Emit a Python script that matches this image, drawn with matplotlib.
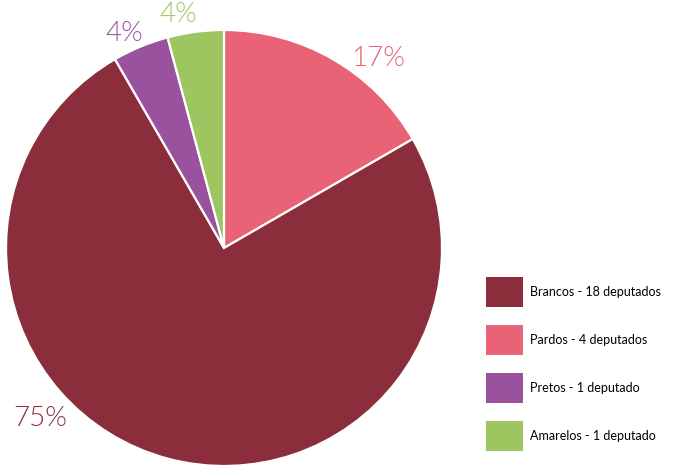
import matplotlib
matplotlib.use("Agg")
import matplotlib.pyplot as plt
from matplotlib.patches import Patch
import numpy as np

# deputies by race/colour
categories = ["Pardos", "Brancos", "Pretos", "Amarelos"]
deputies = [4, 18, 1, 1]
legend_labels = {
    "Brancos": "Brancos - 18 deputados",
    "Pardos": "Pardos - 4 deputados",
    "Pretos": "Pretos - 1 deputado",
    "Amarelos": "Amarelos - 1 deputado",
}
legend_order = ["Brancos", "Pardos", "Pretos", "Amarelos"]
colors = {
    "Brancos": "#8C2D3B",
    "Pardos": "#EA6275",
    "Pretos": "#9B529E",
    "Amarelos": "#9DC660",
}
# where each percentage sits (angle in degrees, radius as fraction of pie radius)
label_pos = {
    "Pardos": (51, 1.12),
    "Brancos": (223, 1.15),
    "Pretos": (115, 1.085),
    "Amarelos": (101, 1.09),
}

W, H = 673, 467
fig = plt.figure(figsize=(W / 100, H / 100), dpi=100)
cx, cy, r = 224, 248, 218
ax = fig.add_axes([(cx - r) / W, (H - cy - r) / H, 2 * r / W, 2 * r / H])

ax.pie(deputies, colors=[colors[c] for c in categories], startangle=90,
       counterclock=False, radius=1,
       wedgeprops=dict(edgecolor="white", linewidth=1.6))
# pie() resets the limits, so pin them afterwards
ax.set_xlim(-1, 1)
ax.set_ylim(-1, 1)
ax.axis("off")

total = sum(deputies)
for cat, n in zip(categories, deputies):
    ang, rad = label_pos[cat]
    a = np.deg2rad(ang)
    ax.text(rad * np.cos(a), rad * np.sin(a), f"{round(100 * n / total)}%",
            ha="center", va="center", fontsize=20, color=colors[cat],
            family="Lato", fontweight=300, clip_on=False)

handles = [Patch(facecolor=colors[c], edgecolor="none") for c in legend_order]
fig.legend(handles, [legend_labels[c] for c in legend_order],
           loc="upper left", bbox_to_anchor=(486 / W, 1 - 277 / H),
           frameon=False, borderpad=0, borderaxespad=0,
           prop=dict(family="Lato", size=9),
           handlelength=2.95, handleheight=3.3, labelspacing=1.45,
           handletextpad=0.55)

fig.savefig("out.png", dpi=100)
